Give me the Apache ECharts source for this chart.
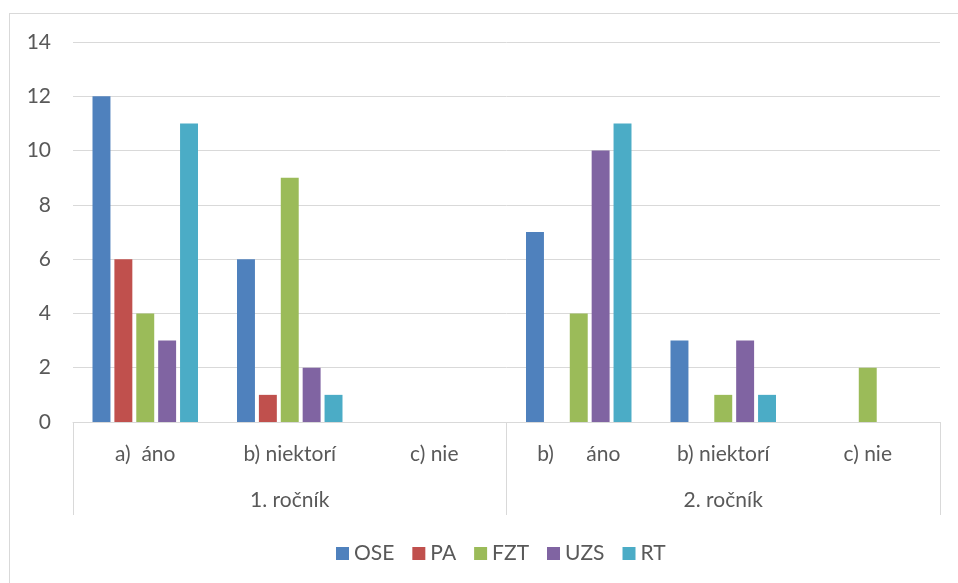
<!DOCTYPE html>
<html>
<head>
<meta charset="utf-8">
<script src="https://cdn.jsdelivr.net/npm/echarts@6/dist/echarts.min.js"></script>
<style>
  html, body { margin: 0; padding: 0; background: #fff; }
  #frame { position: absolute; left: 9px; top: 13px; width: 949px; height: 570px;
           border-left: 1px solid #d9d9d9; border-top: 1px solid #d9d9d9; }
  #main { position: absolute; left: 0; top: 0; width: 958px; height: 583px; }
</style>
</head>
<body>
<div id="frame"></div>
<div id="main"></div>
<script>
// kategórie (spodná úroveň) a skupiny (horná úroveň)
var categories = ['a)  áno', 'b) niektorí', 'c) nie', 'b)      áno', 'b) niektorí', 'c) nie'];
var groups = ['1. ročník', '2. ročník'];
var yTicks = [0, 2, 4, 6, 8, 10, 12, 14];

// hodnoty sérií
var ose = [12, 6, 0, 7, 3, 0];
var pa  = [6, 1, 0, 0, 0, 0];
var fzt = [4, 9, 0, 4, 1, 2];
var uzs = [3, 2, 0, 10, 3, 0];
var rt  = [11, 1, 0, 11, 1, 0];

var font = 'Lato';
var fs = 21;
var myChart = echarts.init(document.getElementById('main'));

function bar(name, data, color) {
    return {
        name: name, type: 'bar', data: data,
        itemStyle: { color: color },
        barGap: '22%', barCategoryGap: '27%'
    };
}

myChart.setOption({
    backgroundColor: 'transparent',
    animation: false,
    textStyle: { fontFamily: font },
    grid: { left: 73, right: 18, top: 42, bottom: 161 },
    legend: {
        top: 538, left: 331,
        itemWidth: 13, itemHeight: 13, itemGap: 18,
        icon: 'rect',
        textStyle: { color: '#595959', fontSize: fs, fontFamily: font },
        data: ['OSE', 'PA', 'FZT', 'UZS', 'RT']
    },
    xAxis: [
        {
            type: 'category',
            data: categories,
            axisLine: { lineStyle: { color: '#d9d9d9', width: 1 } },
            axisTick: { show: false },
            axisLabel: { color: '#595959', fontSize: fs, margin: 22, interval: 0 }
        },
        {
            type: 'category',
            data: groups,
            position: 'bottom',
            axisLine: { show: false },
            axisTick: { show: true, length: 93, lineStyle: { color: '#d9d9d9', width: 1 } },
            axisLabel: { color: '#595959', fontSize: fs, margin: 68 }
        }
    ],
    yAxis: {
        type: 'value',
        min: yTicks[0],
        max: yTicks[yTicks.length - 1],
        interval: 2,
        axisLine: { show: false },
        axisTick: { show: false },
        axisLabel: { color: '#595959', fontSize: fs, margin: 22 },
        splitLine: { lineStyle: { color: '#d9d9d9', width: 1 } }
    },
    series: [
        bar('OSE', ose, '#4f81bd'),
        bar('PA', pa, '#c0504d'),
        bar('FZT', fzt, '#9bbb59'),
        bar('UZS', uzs, '#8064a2'),
        bar('RT', rt, '#4bacc6')
    ]
});
</script>
</body>
</html>
